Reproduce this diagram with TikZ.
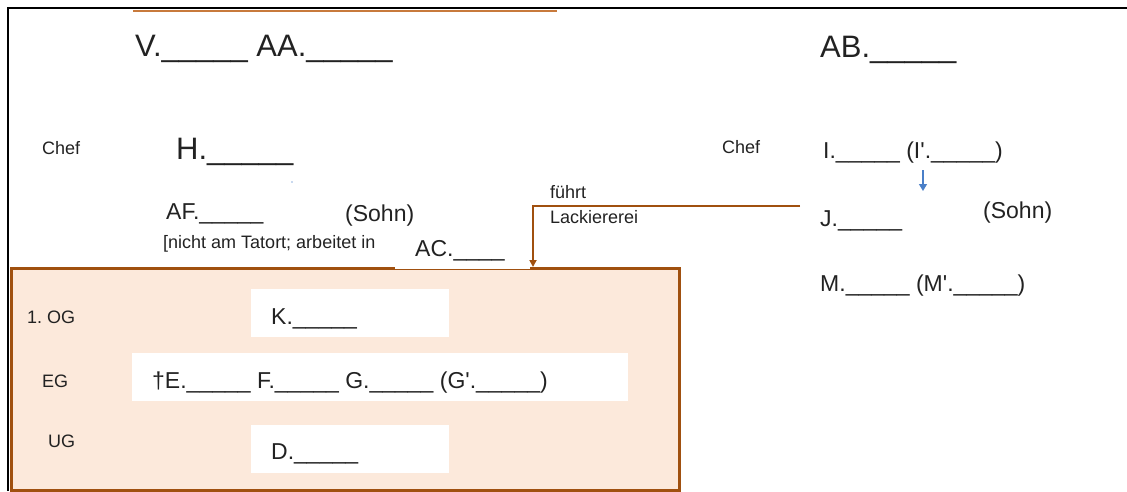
\documentclass[tikz,border=0pt]{standalone}
\usepackage{fontspec}
\setmainfont{Liberation Sans}[Ligatures=TeXOff]
\usetikzlibrary{arrows.meta}
\frenchspacing
\definecolor{boxfill}{HTML}{FCE9DB}
\definecolor{boxline}{HTML}{A0500F}
\definecolor{topline}{HTML}{C87A3C}
\definecolor{bluearr}{HTML}{4A7FC8}
\definecolor{txt}{HTML}{222222}
\tikzset{
  big/.style={anchor=base west, inner sep=0pt, text=txt, font=\fontsize{31}{37}\selectfont},
  med/.style={anchor=base west, inner sep=0pt, text=txt, font=\fontsize{23}{27}\selectfont},
  small/.style={anchor=base west, inner sep=0pt, text=txt, font=\fontsize{18}{22}\selectfont},
  wbox/.style={draw=none, fill=white},
  conn/.style={draw=boxline, line width=2pt, -{Triangle[length=7pt,width=7pt]}},
}
\begin{document}
\begin{tikzpicture}[x=1pt,y=-1pt]
\useasboundingbox (0,0) rectangle (1127,491);
% frame
\draw[black, line width=2.5pt] (8,491) -- (8,8) -- (1127,8);
\draw[topline, line width=1.8pt] (133,11) -- (557,11);
% house box
\node[draw=boxline, fill=boxfill, line width=3pt, minimum width=668pt, minimum height=222pt, anchor=north west, inner sep=0pt] (box) at (10,267) {};
\fill[white] (395,230) rectangle (530,268.6);
% white floor boxes
\node[wbox, minimum width=198pt, minimum height=48pt, anchor=north west, inner sep=0pt] (kbox) at (251,289) {};
\node[wbox, minimum width=496pt, minimum height=48pt, anchor=north west, inner sep=0pt] (egbox) at (132,353) {};
\node[wbox, minimum width=198pt, minimum height=48pt, anchor=north west, inner sep=0pt] (dbox) at (251,425) {};
% top labels
\node[big] (v) at (135,56) {V.\_\_\_\_\_ AA.\_\_\_\_\_};
\node[big] (ab) at (820,57) {AB.\_\_\_\_\_};
% left family
\node[small] (chef1) at (42,154) {Chef};
\node[big] (h) at (176,159) {H.\_\_\_\_\_};
\fill[bluearr!60] (292,182) circle (0.8pt);
\node[med] (af) at (166,219) {AF.\_\_\_\_\_};
\node[med] (sohn1) at (345,221) {(Sohn)};
\node[small] (nicht) at (163,248) {[nicht am Tatort; arbeitet in};
\node[med] (ac) at (415,256) {AC.\_\_\_\_};
% right family
\node[small] (chef2) at (722,153) {Chef};
\node[med] (i) at (823,158) {I.\_\_\_\_\_ (I'.\_\_\_\_\_)};
\node[med] (j) at (820,226) {J.\_\_\_\_\_};
\node[med] (sohn2) at (983,218) {(Sohn)};
\node[med] (m) at (820,291) {M.\_\_\_\_\_ (M'.\_\_\_\_\_)};
\coordinate (ia) at (923,170);
\coordinate (ib) at (923,191);
\draw[bluearr, line width=1.3pt, -{Triangle[length=7pt,width=8pt]}] (ia) -- (ib);
% fuehrt Lackiererei
\node[small] (fuehrt) at (550,198) {führt};
\node[small] (lack) at (550,223) {Lackiererei};
\coordinate (lk) at (800,206);
\coordinate (boxtop) at (533,267);
\draw[conn] (lk) -| (boxtop);
% floors
\node[small] (og) at (27,323) {1. OG};
\node[small] (eg) at (42,387) {EG};
\node[small] (ug) at (48,447) {UG};
\node[med] (k) at (271,324) {K.\_\_\_\_\_};
\node[med] (efg) at (152,388) {†E.\_\_\_\_\_ F.\_\_\_\_\_ G.\_\_\_\_\_ (G'.\_\_\_\_\_)};
\node[med] (d) at (271,459) {D.\_\_\_\_\_};
\end{tikzpicture}
\end{document}
